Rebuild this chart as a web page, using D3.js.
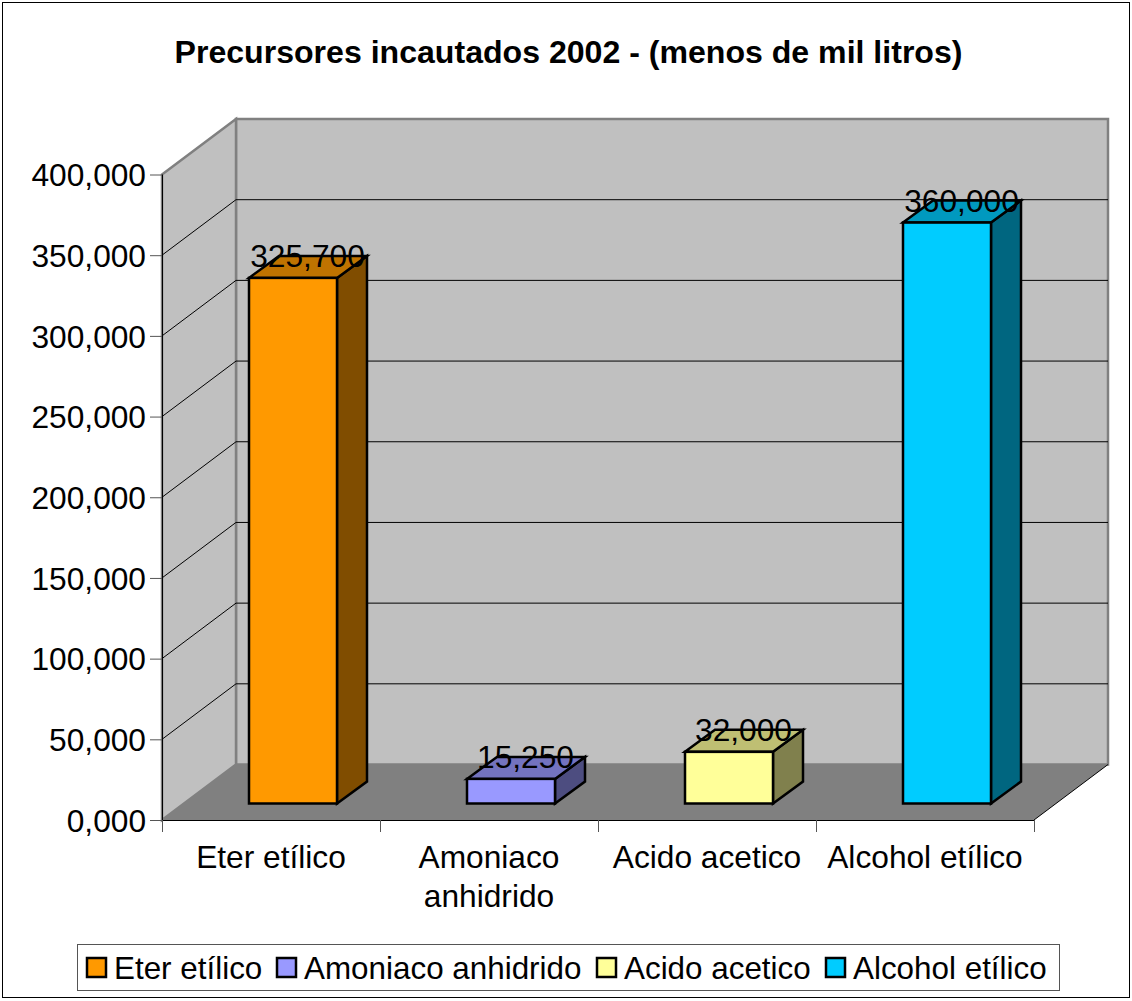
<!DOCTYPE html>
<html>
<head>
<meta charset="utf-8">
<style>
    body { margin: 0; background: #fff; }
    svg { display: block; }
    text { font-family: "Liberation Sans", Arial, sans-serif; fill: #000; }
    .title { font-size: 32.1px; font-weight: bold; }
    .tick-label { font-size: 31.7px; }
    .value-label { font-size: 31.7px; }
    .legend-label { font-size: 31.4px; }
</style>
</head>
<body>
<script src="https://d3js.org/d3.v7.min.js"></script>
<script>
    // Data
    var categories = ["Eter etílico", "Amoniaco anhidrido", "Acido acetico", "Alcohol etílico"];
    var values = [325700, 15250, 32000, 360000];
    var valueLabels = ["325,700", "15,250", "32,000", "360,000"];
    var yTicks = [0, 50000, 100000, 150000, 200000, 250000, 300000, 350000, 400000];
    var colors = ["#ff9900", "#9999ff", "#ffff99", "#00ccff"];
    var topColors = ["#bf7300", "#7373bf", "#bfbf73", "#0099bf"];
    var sideColors = ["#804d00", "#4d4d80", "#80804d", "#006680"];

    var width = 1132, height = 1001;
    var depthX = 74, depthY = 55.5;      // wall depth
    var barDepthX = 30, barDepthY = 22;  // bar depth
    var barInsetX = 22, barInsetY = 16.5; // bar sits this far into the floor

    var svg = d3.select("body").append("svg")
        .attr("width", width)
        .attr("height", height);

    var x = d3.scaleBand().domain(categories).range([162, 1034]);
    var y = d3.scaleLinear().domain([0, 400000]).range([820, 174.5]);
    var barWidth = 88;
    var barOffset = (x.bandwidth() - barWidth) / 2 + barInsetX; // from band start

    // Outer frame
    svg.append("rect")
        .attr("x", 2.5).attr("y", 2.5)
        .attr("width", 1127).attr("height", 995)
        .attr("fill", "#fff").attr("stroke", "#000");

    svg.append("text").attr("class", "title")
        .attr("x", 568.5).attr("y", 63)
        .attr("text-anchor", "middle")
        .text("Precursores incautados 2002 - (menos de mil litros)");

    var x0 = x.range()[0], x1 = x.range()[1];
    var y0 = y(0), yTop = y(400000);

    function poly(points) {
        return points.map(function (p) { return p.join(","); }).join(" ");
    }

    // Back wall, side wall, floor
    svg.append("polygon")
        .attr("points", poly([[x0 + depthX, yTop - depthY], [x1 + depthX, yTop - depthY], [x1 + depthX, y0 - depthY], [x0 + depthX, y0 - depthY]]))
        .attr("fill", "#c0c0c0").attr("stroke", "#808080").attr("stroke-width", 2.5);
    svg.append("polygon")
        .attr("points", poly([[x0, yTop], [x0 + depthX, yTop - depthY], [x0 + depthX, y0 - depthY], [x0, y0]]))
        .attr("fill", "#c0c0c0").attr("stroke", "#808080").attr("stroke-width", 2.5);
    svg.append("polygon")
        .attr("points", poly([[x0, y0], [x0 + depthX, y0 - depthY], [x1 + depthX, y0 - depthY], [x1, y0]]))
        .attr("fill", "#808080");

    // Gridlines on both walls
    var grid = svg.append("g").attr("fill", "none").attr("stroke", "#000").attr("stroke-width", 1);
    grid.selectAll("path")
        .data(yTicks.slice(1, -1))
        .enter().append("path")
        .attr("d", function (d) {
            return "M" + x0 + "," + y(d) + "L" + (x0 + depthX) + "," + (y(d) - depthY) + "L" + (x1 + depthX) + "," + (y(d) - depthY);
        });

    // Floor edges
    svg.append("path")
        .attr("d", "M" + x1 + "," + y0 + "L" + (x1 + depthX) + "," + (y0 - depthY))
        .attr("fill", "none").attr("stroke", "#000");

    // Axes
    var yAxis = d3.axisLeft(y)
        .tickValues(yTicks)
        .tickSize(12)
        .tickPadding(4)
        .tickFormat(function (d) { return d === 0 ? "0,000" : d3.format(",")(d); });
    var gy = svg.append("g").attr("transform", "translate(" + x0 + ",0)").call(yAxis);
    gy.select(".domain").attr("stroke", "#000").attr("d", "M0.5," + yTop + "V" + y0);
    gy.selectAll(".tick line").attr("stroke", "#555");
    gy.selectAll(".tick text").attr("class", "tick-label").attr("font-size", null).attr("font-family", null).attr("y", 1);

    var bandEdges = categories.map(function (c) { return x(c); }).concat([x1]);
    svg.append("path")
        .attr("d", "M" + x0 + "," + (y0 + 0.5) + "H" + x1)
        .attr("stroke", "#000").attr("fill", "none");
    svg.append("g").selectAll("line")
        .data(bandEdges)
        .enter().append("line")
        .attr("x1", function (d) { return d + 0.5; })
        .attr("x2", function (d) { return d + 0.5; })
        .attr("y1", y0).attr("y2", y0 + 12)
        .attr("stroke", "#555");

    // Category labels, wrapped like the original
    var catLines = [["Eter etílico"], ["Amoniaco", "anhidrido"], ["Acido acetico"], ["Alcohol etílico"]];
    svg.append("g").selectAll("text")
        .data(categories)
        .enter().append("text")
        .attr("class", "tick-label")
        .attr("text-anchor", "middle")
        .attr("x", function (d) { return x(d) + x.bandwidth() / 2; })
        .attr("y", 868)
        .each(function (d, i) {
            var t = d3.select(this), cx = x(d) + x.bandwidth() / 2;
            catLines[i].forEach(function (line, k) {
                t.append("tspan").attr("x", cx).attr("y", 868 + k * 39).text(line);
            });
        });

    // 3D bars
    var bars = svg.append("g").selectAll("g")
        .data(categories)
        .enter().append("g")
        .attr("stroke", "#000").attr("stroke-width", 2.5).attr("stroke-linejoin", "miter");

    function barBox(d, i) {
        var left = x(d) + barOffset, right = left + barWidth;
        var bottom = y(0) - barInsetY, top = y(values[i]) - barInsetY;
        return { left: left, right: right, bottom: bottom, top: top };
    }
    bars.append("polygon")
        .attr("fill", function (d, i) { return sideColors[i]; })
        .attr("points", function (d, i) {
            var b = barBox(d, i);
            return poly([[b.right, b.top], [b.right + barDepthX, b.top - barDepthY], [b.right + barDepthX, b.bottom - barDepthY], [b.right, b.bottom]]);
        });
    bars.append("polygon")
        .attr("fill", function (d, i) { return topColors[i]; })
        .attr("points", function (d, i) {
            var b = barBox(d, i);
            return poly([[b.left, b.top], [b.left + barDepthX, b.top - barDepthY], [b.right + barDepthX, b.top - barDepthY], [b.right, b.top]]);
        });
    bars.append("rect")
        .attr("fill", function (d, i) { return colors[i]; })
        .attr("x", function (d, i) { return barBox(d, i).left; })
        .attr("y", function (d, i) { return barBox(d, i).top; })
        .attr("width", barWidth)
        .attr("height", function (d, i) { var b = barBox(d, i); return b.bottom - b.top; });

    // Value labels
    svg.append("g").selectAll("text")
        .data(categories)
        .enter().append("text")
        .attr("class", "value-label")
        .attr("text-anchor", "middle")
        .attr("x", function (d, i) { return barBox(d, i).left + barWidth / 2 + 14.5; })
        .attr("y", function (d, i) { return barBox(d, i).top - 11; })
        .text(function (d, i) { return valueLabels[i]; });

    // Legend
    var legendX = [87, 277, 597, 826];
    svg.append("rect")
        .attr("x", 77.5).attr("y", 944.5)
        .attr("width", 982).attr("height", 46)
        .attr("fill", "#fff").attr("stroke", "#555");
    var legend = svg.append("g").selectAll("g")
        .data(categories)
        .enter().append("g")
        .attr("transform", function (d, i) { return "translate(" + legendX[i] + ",958)"; });
    legend.append("rect")
        .attr("width", 19).attr("height", 19)
        .attr("fill", function (d, i) { return colors[i]; })
        .attr("stroke", "#000").attr("stroke-width", 2.5);
    legend.append("text")
        .attr("class", "legend-label")
        .attr("x", 27).attr("y", 21)
        .text(function (d) { return d; });
</script>
</body>
</html>
